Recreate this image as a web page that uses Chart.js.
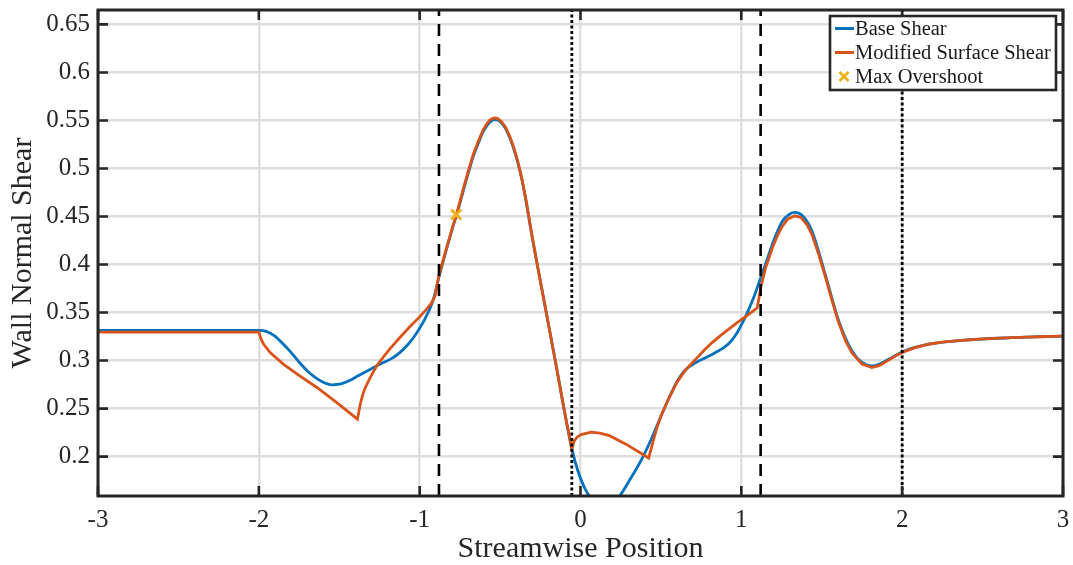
<!DOCTYPE html>
<html>
<head>
<meta charset="utf-8">
<title>Wall Normal Shear</title>
<script src="https://cdn.jsdelivr.net/npm/chart.js@4.4.1/dist/chart.umd.min.js"></script>
<style>
  html, body { margin: 0; padding: 0; background: #fff; }
  #chart { display: block; }
</style>
</head>
<body>
<canvas id="chart" width="1073" height="565"></canvas>
<script>
// values
const baseX = [-3, -2, -1.95, -1.9, -1.85, -1.8, -1.75, -1.7, -1.65, -1.6, -1.546, -1.49, -1.432, -1.38, -1.329, -1.277, -1.226, -1.17, -1.122, -1.08, -1.04, -0.978, -0.916, -0.88, -0.833, -0.792, -0.771, -0.73, -0.7, -0.668, -0.636, -0.606, -0.584, -0.564, -0.548, -0.533, -0.515, -0.492, -0.466, -0.44, -0.415, -0.389, -0.362, -0.337, -0.316, -0.3, -0.269, -0.213, -0.157, -0.103, -0.054, -0.017, 0.03, 0.1, 0.15, 0.2, 0.246, 0.3, 0.386, 0.45, 0.5, 0.55, 0.6, 0.65, 0.717, 0.82, 0.924, 0.97, 1.006, 1.04, 1.08, 1.12, 1.16, 1.192, 1.254, 1.3, 1.333, 1.39, 1.44, 1.523, 1.606, 1.688, 1.75, 1.812, 1.86, 1.916, 2.0, 2.164, 2.37, 2.68, 3.0];
const baseY = [0.3315, 0.3315, 0.3302, 0.3255, 0.3175, 0.3085, 0.2985, 0.2895, 0.2825, 0.2775, 0.2748, 0.2757, 0.2795, 0.2845, 0.289, 0.2935, 0.298, 0.3025, 0.3085, 0.3155, 0.3235, 0.34, 0.363, 0.387, 0.416, 0.44, 0.451, 0.476, 0.494, 0.512, 0.526, 0.538, 0.544, 0.548, 0.5502, 0.551, 0.5505, 0.5475, 0.5415, 0.532, 0.5205, 0.5055, 0.4865, 0.4645, 0.4435, 0.428, 0.4, 0.35, 0.3, 0.25, 0.208, 0.1855, 0.166, 0.15, 0.146, 0.15, 0.1595, 0.174, 0.199, 0.222, 0.242, 0.261, 0.278, 0.29, 0.298, 0.3065, 0.318, 0.328, 0.339, 0.351, 0.367, 0.386, 0.405, 0.4207, 0.4448, 0.4525, 0.4542, 0.449, 0.4344, 0.389, 0.341, 0.31, 0.298, 0.2944, 0.2965, 0.3013, 0.309, 0.317, 0.321, 0.3238, 0.3255];

const modX = [-3, -2, -1.985, -1.97, -1.928, -1.846, -1.75, -1.639, -1.515, -1.387, -1.37, -1.355, -1.339, -1.31, -1.267, -1.22, -1.184, -1.12, -1.06, -1.0, -0.957, -0.93, -0.905, -0.88, -0.833, -0.792, -0.771, -0.73, -0.7, -0.668, -0.636, -0.606, -0.584, -0.564, -0.548, -0.533, -0.515, -0.492, -0.466, -0.44, -0.415, -0.389, -0.362, -0.337, -0.316, -0.3, -0.269, -0.213, -0.157, -0.103, -0.054, -0.04, -0.02, 0.004, 0.066, 0.12, 0.18, 0.283, 0.424, 0.455, 0.475, 0.5, 0.55, 0.6, 0.65, 0.7, 0.717, 0.77, 0.82, 0.87, 0.924, 0.97, 1.02, 1.06, 1.099, 1.12, 1.15, 1.192, 1.23, 1.254, 1.29, 1.333, 1.37, 1.41, 1.44, 1.48, 1.523, 1.565, 1.606, 1.65, 1.688, 1.75, 1.812, 1.86, 1.916, 1.96, 2.0, 2.08, 2.164, 2.26, 2.37, 2.5, 2.68, 2.85, 3.0];
const modY = [0.3297, 0.3297, 0.322, 0.317, 0.308, 0.296, 0.2845, 0.272, 0.2563, 0.239, 0.254, 0.264, 0.2715, 0.2815, 0.2945, 0.305, 0.3125, 0.3245, 0.3355, 0.3455, 0.3535, 0.359, 0.367, 0.389, 0.417, 0.441, 0.452, 0.478, 0.496, 0.514, 0.528, 0.54, 0.546, 0.5505, 0.552, 0.5527, 0.552, 0.549, 0.543, 0.5335, 0.522, 0.507, 0.4875, 0.4655, 0.4445, 0.429, 0.4, 0.35, 0.3, 0.25, 0.208, 0.216, 0.2205, 0.223, 0.2255, 0.2245, 0.2218, 0.213, 0.1986, 0.218, 0.23, 0.242, 0.261, 0.2775, 0.2895, 0.2985, 0.3015, 0.311, 0.319, 0.326, 0.333, 0.339, 0.345, 0.35, 0.355, 0.3756, 0.396, 0.417, 0.432, 0.4396, 0.4475, 0.4507, 0.449, 0.441, 0.431, 0.411, 0.387, 0.362, 0.339, 0.32, 0.308, 0.2965, 0.2928, 0.295, 0.3005, 0.305, 0.3085, 0.3135, 0.317, 0.3195, 0.321, 0.3225, 0.3238, 0.3248, 0.3255];

const overshootX = [-0.773];
const overshootY = [0.452];

const dashedX = [-0.88, 1.12];
const dottedX = [-0.054, 2.0];

const xRange = [-3, 3];
const yRange = [0.159, 0.665];
const xTicks = [-3, -2, -1, 0, 1, 2, 3];
const xTickLabels = ['-3', '-2', '-1', '0', '1', '2', '3'];
const yTicks = [0.2, 0.25, 0.3, 0.35, 0.4, 0.45, 0.5, 0.55, 0.6, 0.65];
const yTickLabels = ['0.2', '0.25', '0.3', '0.35', '0.4', '0.45', '0.5', '0.55', '0.6', '0.65'];

const BLUE = '#0072BD', ORANGE = '#D95319', YELLOW = '#EDB120';
const AXIS = '#262626';

const pts = (xs, ys) => xs.map((x, i) => ({ x: x, y: ys[i] }));
const vline = x => [{ x: x, y: yRange[0] }, { x: x, y: yRange[1] }];

const refLines = [];
dashedX.forEach(x => refLines.push({
  data: vline(x), borderColor: '#000', borderWidth: 2.6, borderDash: [12, 8],
  pointRadius: 0, order: 2, refLine: true
}));
dottedX.forEach(x => refLines.push({
  data: vline(x), borderColor: '#000', borderWidth: 2.8, borderDash: [3, 2.5],
  pointRadius: 0, order: 2, refLine: true
}));

// box, inward ticks and legend, drawn like the matlab axes
const frame = {
  id: 'frame',
  afterDatasetsDraw(chart) {
    const { ctx, chartArea: a, scales: { x, y } } = chart;
    ctx.save();
    ctx.strokeStyle = AXIS;
    ctx.lineWidth = 2.6;
    const len = 10;
    ctx.beginPath();
    xTicks.forEach(v => {
      const px = x.getPixelForValue(v);
      ctx.moveTo(px, a.bottom); ctx.lineTo(px, a.bottom - len);
      ctx.moveTo(px, a.top); ctx.lineTo(px, a.top + len);
    });
    yTicks.forEach(v => {
      const py = y.getPixelForValue(v);
      ctx.moveTo(a.left, py); ctx.lineTo(a.left + len, py);
      ctx.moveTo(a.right, py); ctx.lineTo(a.right - len, py);
    });
    ctx.stroke();
    ctx.lineWidth = 3;
    ctx.strokeRect(a.left, a.top, a.right - a.left, a.bottom - a.top);

    // legend
    const items = chart.data.datasets.filter(d => !d.refLine);
    const w = 226, h = 74;
    const lx = a.right - 7 - w, ly = a.top + 6;
    ctx.fillStyle = '#fff';
    ctx.fillRect(lx, ly, w, h);
    ctx.lineWidth = 2.6;
    ctx.strokeStyle = AXIS;
    ctx.strokeRect(lx, ly, w, h);
    ctx.font = '20.5px "Liberation Serif", "DejaVu Serif", serif';
    ctx.textBaseline = 'middle';
    items.forEach((d, i) => {
      const cy = ly + 12.5 + 24 * i;
      ctx.strokeStyle = d.borderColor;
      ctx.lineWidth = d.showLine === false ? 2.8 : 3;
      ctx.beginPath();
      if (d.showLine === false) {
        const cx = lx + 14, r = 4.5;
        ctx.moveTo(cx - r, cy - r); ctx.lineTo(cx + r, cy + r);
        ctx.moveTo(cx - r, cy + r); ctx.lineTo(cx + r, cy - r);
      } else {
        ctx.moveTo(lx + 5, cy); ctx.lineTo(lx + 24, cy);
      }
      ctx.stroke();
      ctx.fillStyle = '#1a1a1a';
      ctx.fillText(d.label, lx + 25, cy + 1);
    });
    ctx.restore();
  }
};

Chart.defaults.font.family = '"Liberation Serif", "DejaVu Serif", serif';
Chart.defaults.color = AXIS;

new Chart(document.getElementById('chart'), {
  type: 'line',
  data: {
    datasets: [
      { label: 'Base Shear', data: pts(baseX, baseY), borderColor: BLUE, borderWidth: 2.8,
        pointRadius: 0, cubicInterpolationMode: 'monotone', order: 5 },
      { label: 'Modified Surface Shear', data: pts(modX, modY), borderColor: ORANGE, borderWidth: 2.8,
        pointRadius: 0, tension: 0, order: 4 },
      { label: 'Max Overshoot', data: pts(overshootX, overshootY), showLine: false, pointStyle: 'crossRot',
        pointRadius: 7, borderColor: YELLOW, backgroundColor: YELLOW, pointBorderWidth: 3, order: 1 }
    ].concat(refLines)
  },
  options: {
    responsive: false,
    animation: false,
    devicePixelRatio: 1,
    layout: { padding: { left: 0, right: 8, top: 9, bottom: 0 } },
    plugins: { legend: { display: false }, tooltip: { enabled: false } },
    scales: {
      x: {
        type: 'linear', min: xRange[0], max: xRange[1],
        afterBuildTicks: s => { s.ticks = xTicks.map(v => ({ value: v })); },
        afterFit: s => { s.height = 69; s.paddingLeft = 0; s.paddingRight = 0; },
        grid: { color: '#dedede', lineWidth: 2.4, drawTicks: false },
        border: { display: false },
        ticks: { padding: 9, font: { size: 25 }, color: AXIS, maxRotation: 0,
                 callback: (v, i) => xTickLabels[i] },
        title: { display: true, text: 'Streamwise Position', font: { size: 30, lineHeight: 1.05 }, color: AXIS,
                 padding: { top: 0, bottom: 0 } }
      },
      y: {
        type: 'linear', min: yRange[0], max: yRange[1],
        afterBuildTicks: s => { s.ticks = yTicks.map(v => ({ value: v })); },
        afterFit: s => { s.width = 98; s.paddingTop = 0; s.paddingBottom = 0; },
        grid: { color: '#dedede', lineWidth: 2.4, drawTicks: false },
        border: { display: false },
        ticks: { padding: 8, font: { size: 25 }, color: AXIS,
                 callback: (v, i) => yTickLabels[i] },
        title: { display: true, text: 'Wall Normal Shear', font: { size: 30 }, color: AXIS,
                 padding: { top: 5, bottom: 0 } }
      }
    }
  },
  plugins: [frame]
});
</script>
</body>
</html>
